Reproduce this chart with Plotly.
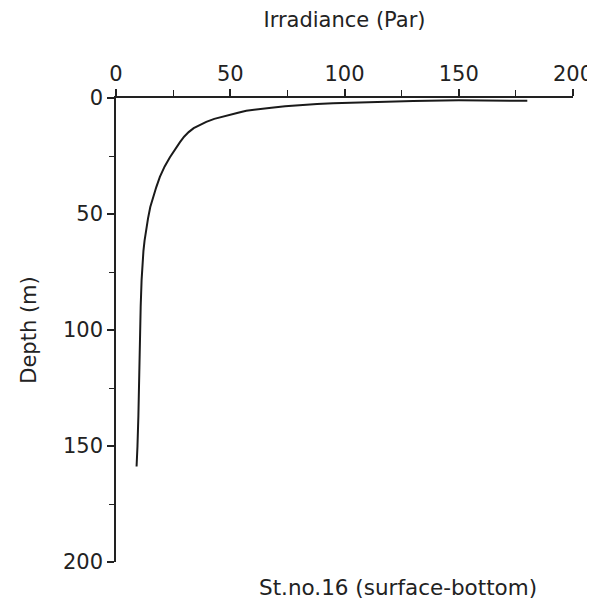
import plotly.graph_objects as go

# Irradiance profile
irradiance = [180, 165, 150, 130, 116, 105, 95, 88, 80, 74, 68, 62, 57, 53, 47, 43, 39.5, 36.5, 34, 31.8, 29.8, 28, 25.8, 23.6, 21.3, 19.2, 17.6, 16.2, 15, 14, 13.1, 12.5, 12.0, 11.6, 11.2, 10.8, 10.5, 10.2, 9.8, 9.4, 9.0]
depth      = [1.2, 1.1, 1.0, 1.3, 1.6, 2.0, 2.3, 2.6, 3.1, 3.6, 4.2, 4.8, 5.5, 6.5, 7.8, 9.0, 10.3, 11.6, 13.0, 14.7, 16.7, 19.0, 22.0, 25.5, 29.5, 34.0, 38.5, 42.7, 47.0, 52.0, 57.0, 61.5, 66.0, 72.0, 78.5, 90.0, 107.0, 120.0, 137.0, 150.0, 158.8]

x_ticks = [0, 50, 100, 150, 200]
y_ticks = [0, 50, 100, 150, 200]

FONT = "DejaVu Sans"
INK = "#222222"

fig = go.Figure()
fig.add_trace(go.Scatter(x=irradiance, y=depth, mode="lines",
                         line=dict(color="#1a1a1a", width=2),
                         showlegend=False, hoverinfo="skip"))

fig.update_layout(
    width=587, height=603,
    margin=dict(l=108, r=22, t=90, b=49),
    paper_bgcolor="white", plot_bgcolor="white",
    font=dict(family=FONT, size=20, color=INK),
    xaxis=dict(side="top", range=[0, 200], tickvals=x_ticks, ticks="outside",
               ticklen=7, tickwidth=1.5, tickcolor=INK, showline=True, linecolor=INK,
               linewidth=1.5, showgrid=False, zeroline=False, automargin=False,
               tickfont=dict(size=21, family=FONT, color=INK),
               minor=dict(dtick=25, tick0=0, ticks="outside", ticklen=6, tickwidth=1.2, tickcolor=INK),
               title=dict(text="Irradiance (Par)", font=dict(size=21, family=FONT, color=INK), standoff=31)),
    yaxis=dict(range=[200, 0], tickvals=y_ticks, ticks="outside",
               ticklen=7, tickwidth=1.5, tickcolor=INK, showline=True, linecolor=INK,
               linewidth=1.5, showgrid=False, zeroline=False, automargin=False,
               tickfont=dict(size=21, family=FONT, color=INK),
               minor=dict(dtick=25, tick0=0, ticks="outside", ticklen=5, tickwidth=1.2, tickcolor=INK),
               title=dict(text="Depth (m)", font=dict(size=21, family=FONT, color=INK), standoff=21)),
    annotations=[dict(text="St.no.16 (surface-bottom)", xref="paper", yref="paper",
                      x=0.617, y=-0.055, xanchor="center", yanchor="middle", showarrow=False,
                      font=dict(size=21.5, family=FONT, color=INK))],
)

fig.write_html("out.html")
